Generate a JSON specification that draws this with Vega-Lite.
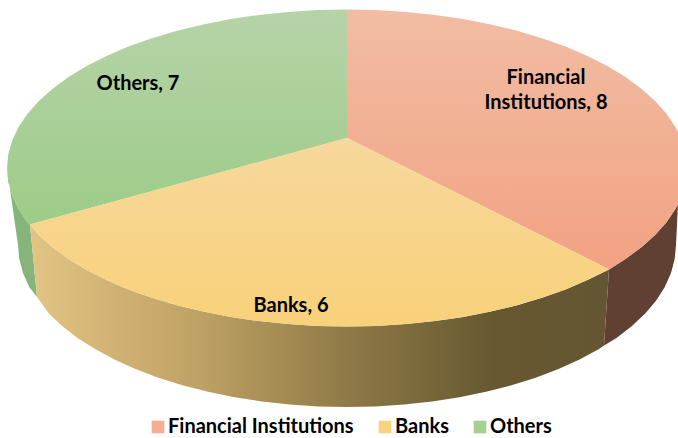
{"$schema":"https://vega.github.io/schema/vega-lite/v6.json","width":678,"height":438,"autosize":{"type":"fit","contains":"padding"},"padding":0,"background":"white","view":{"stroke":null},
"datasets":{
"slices":[{"sector":"Financial Institutions","value":8,"label":"Financial\nInstitutions, 8","x":546,"y":78,"ord":0},{"sector":"Banks","value":6,"label":"Banks, 6","x":291,"y":306,"ord":1},{"sector":"Others","value":7,"label":"Others, 7","x":138,"y":84,"ord":2}],
"finTop":[{"ord":0,"x":347,"y":138},{"ord":1,"x":347,"y":9.5},{"ord":2,"x":376.6,"y":10.1},{"ord":3,"x":406,"y":11.9},{"ord":4,"x":435,"y":14.9},{"ord":5,"x":463.3,"y":19.1},{"ord":6,"x":490.7,"y":24.4},{"ord":7,"x":517,"y":30.7},{"ord":8,"x":542,"y":38.2},{"ord":9,"x":565.6,"y":46.6},{"ord":10,"x":587.4,"y":55.9},{"ord":11,"x":607.4,"y":66.1},{"ord":12,"x":625.5,"y":77.1},{"ord":13,"x":641.4,"y":88.7},{"ord":14,"x":655.1,"y":101},{"ord":15,"x":666.5,"y":113.8},{"ord":16,"x":675.4,"y":127},{"ord":17,"x":678,"y":132},{"ord":18,"x":678,"y":204},{"ord":19,"x":675.4,"y":209},{"ord":20,"x":666.5,"y":222.2},{"ord":21,"x":655.1,"y":235},{"ord":22,"x":641.4,"y":247.3},{"ord":23,"x":625.5,"y":258.9},{"ord":24,"x":609,"y":269.5}],
"bankTop":[{"ord":0,"x":347,"y":138},{"ord":1,"x":609,"y":269.5},{"ord":2,"x":587.4,"y":280.1},{"ord":3,"x":565.6,"y":289.4},{"ord":4,"x":542,"y":297.8},{"ord":5,"x":517,"y":305.3},{"ord":6,"x":490.7,"y":311.6},{"ord":7,"x":463.3,"y":316.9},{"ord":8,"x":435,"y":321.1},{"ord":9,"x":406,"y":324.1},{"ord":10,"x":376.6,"y":325.9},{"ord":11,"x":347,"y":326.5},{"ord":12,"x":317.4,"y":325.9},{"ord":13,"x":288,"y":324.1},{"ord":14,"x":259,"y":321.1},{"ord":15,"x":230.7,"y":316.9},{"ord":16,"x":203.3,"y":311.6},{"ord":17,"x":177,"y":305.3},{"ord":18,"x":152,"y":297.8},{"ord":19,"x":128.4,"y":289.4},{"ord":20,"x":106.6,"y":280.1},{"ord":21,"x":86.6,"y":269.9},{"ord":22,"x":68.5,"y":258.9},{"ord":23,"x":52.6,"y":247.3},{"ord":24,"x":38.9,"y":235},{"ord":25,"x":30,"y":224.6}],
"otherTop":[{"ord":0,"x":347,"y":138},{"ord":1,"x":30,"y":224.6},{"ord":2,"x":27.5,"y":222.2},{"ord":3,"x":18.6,"y":209},{"ord":4,"x":12.2,"y":195.5},{"ord":5,"x":8.3,"y":181.8},{"ord":6,"x":7,"y":168},{"ord":7,"x":8.3,"y":154.2},{"ord":8,"x":12.2,"y":140.5},{"ord":9,"x":18.6,"y":127},{"ord":10,"x":27.5,"y":113.8},{"ord":11,"x":38.9,"y":101},{"ord":12,"x":52.6,"y":88.7},{"ord":13,"x":68.5,"y":77.1},{"ord":14,"x":86.6,"y":66.1},{"ord":15,"x":106.6,"y":55.9},{"ord":16,"x":128.4,"y":46.6},{"ord":17,"x":152,"y":38.2},{"ord":18,"x":177,"y":30.7},{"ord":19,"x":203.3,"y":24.4},{"ord":20,"x":230.7,"y":19.1},{"ord":21,"x":259,"y":14.9},{"ord":22,"x":288,"y":11.9},{"ord":23,"x":317.4,"y":10.1},{"ord":24,"x":347,"y":9.5}],
"finWall":[{"ord":0,"x":678,"y":204},{"ord":1,"x":675.4,"y":209},{"ord":2,"x":666.5,"y":222.2},{"ord":3,"x":655.1,"y":235},{"ord":4,"x":641.4,"y":247.3},{"ord":5,"x":625.5,"y":258.9},{"ord":6,"x":609,"y":269.5},{"ord":7,"x":604,"y":345.5},{"ord":8,"x":616.5,"y":337.9},{"ord":9,"x":631.9,"y":326},{"ord":10,"x":645.2,"y":313.5},{"ord":11,"x":656.2,"y":300.4},{"ord":12,"x":664.8,"y":286.9},{"ord":13,"x":671,"y":273.1},{"ord":14,"x":674.7,"y":259.1},{"ord":15,"x":676,"y":245}],
"bankWall":[{"ord":0,"x":609,"y":269.5},{"ord":1,"x":587.4,"y":280.1},{"ord":2,"x":565.6,"y":289.4},{"ord":3,"x":542,"y":297.8},{"ord":4,"x":517,"y":305.3},{"ord":5,"x":490.7,"y":311.6},{"ord":6,"x":463.3,"y":316.9},{"ord":7,"x":435,"y":321.1},{"ord":8,"x":406,"y":324.1},{"ord":9,"x":376.6,"y":325.9},{"ord":10,"x":347,"y":326.5},{"ord":11,"x":317.4,"y":325.9},{"ord":12,"x":288,"y":324.1},{"ord":13,"x":259,"y":321.1},{"ord":14,"x":230.7,"y":316.9},{"ord":15,"x":203.3,"y":311.6},{"ord":16,"x":177,"y":305.3},{"ord":17,"x":152,"y":297.8},{"ord":18,"x":128.4,"y":289.4},{"ord":19,"x":106.6,"y":280.1},{"ord":20,"x":86.6,"y":269.9},{"ord":21,"x":68.5,"y":258.9},{"ord":22,"x":52.6,"y":247.3},{"ord":23,"x":38.9,"y":235},{"ord":24,"x":30,"y":224.6},{"ord":25,"x":37,"y":297},{"ord":26,"x":48.8,"y":313.5},{"ord":27,"x":62.1,"y":326},{"ord":28,"x":77.5,"y":337.9},{"ord":29,"x":95,"y":349.1},{"ord":30,"x":114.4,"y":359.6},{"ord":31,"x":135.5,"y":369.1},{"ord":32,"x":158.3,"y":377.7},{"ord":33,"x":182.5,"y":385.3},{"ord":34,"x":208,"y":391.8},{"ord":35,"x":234.5,"y":397.2},{"ord":36,"x":261.9,"y":401.5},{"ord":37,"x":289.9,"y":404.5},{"ord":38,"x":318.3,"y":406.4},{"ord":39,"x":347,"y":407},{"ord":40,"x":375.7,"y":406.4},{"ord":41,"x":404.1,"y":404.5},{"ord":42,"x":432.1,"y":401.5},{"ord":43,"x":459.5,"y":397.2},{"ord":44,"x":486,"y":391.8},{"ord":45,"x":511.5,"y":385.3},{"ord":46,"x":535.7,"y":377.7},{"ord":47,"x":558.5,"y":369.1},{"ord":48,"x":579.6,"y":359.6},{"ord":49,"x":599,"y":349.1},{"ord":50,"x":604,"y":345.5}],
"otherWall":[{"ord":0,"x":30,"y":224.6},{"ord":1,"x":27.5,"y":222.2},{"ord":2,"x":18.6,"y":209},{"ord":3,"x":12.2,"y":195.5},{"ord":4,"x":8.3,"y":181.8},{"ord":5,"x":7,"y":168},{"ord":6,"x":18,"y":245},{"ord":7,"x":19.3,"y":259.1},{"ord":8,"x":23,"y":273.1},{"ord":9,"x":29.2,"y":286.9},{"ord":10,"x":37,"y":297}]
},
"encoding":{"x":{"field":"x","type":"quantitative","scale":{"domain":[0,678],"nice":false,"zero":false},"axis":null},"y":{"field":"y","type":"quantitative","scale":{"domain":[438,0],"nice":false,"zero":false},"axis":null},"order":{"field":"ord","type":"quantitative"}},
"layer":[
{"data":{"name":"slices"},"mark":{"type":"square","size":100,"opacity":1},"encoding":{"color":{"field":"sector","type":"nominal","scale":{"domain":["Financial Institutions","Banks","Others"],"range":["#F5AE94","#FAD27F","#A6D08F"]},"sort":["Financial Institutions","Banks","Others"],"legend":{"title":null,"orient":"none","legendX":148,"legendY":417,"direction":"horizontal","columns":3,"columnPadding":21,"symbolType":"square","symbolSize":160,"symbolStrokeWidth":0,"labelFont":"Lato","labelFontWeight":"bold","labelFontSize":20,"labelColor":"#000000","labelOffset":0,"labelLimit":300,"symbolOffset":0}}}},
{"data":{"name":"otherWall"},"mark":{"type":"line","strokeWidth":0,"fill":"#86B47A"}},
{"data":{"name":"finWall"},"mark":{"type":"line","strokeWidth":0,"fill":"#5F4033"}},
{"data":{"name":"bankWall"},"mark":{"type":"line","strokeWidth":0,"fill":{"gradient":"linear","x1":0,"y1":0,"x2":1,"y2":0,"stops":[{"offset":0,"color":"#E2C584"},{"offset":0.3,"color":"#BDA063"},{"offset":0.55,"color":"#8E7A47"},{"offset":0.8,"color":"#675830"},{"offset":1,"color":"#645632"}]}}},
{"data":{"name":"finTop"},"mark":{"type":"line","strokeWidth":0,"fill":{"gradient":"linear","x1":0,"y1":0,"x2":0,"y2":1,"stops":[{"offset":0,"color":"#F1BDA4"},{"offset":1,"color":"#F2A282"}]}}},
{"data":{"name":"otherTop"},"mark":{"type":"line","strokeWidth":0,"fill":{"gradient":"linear","x1":0,"y1":0,"x2":0,"y2":1,"stops":[{"offset":0,"color":"#B6D3A8"},{"offset":1,"color":"#9DCC88"}]}}},
{"data":{"name":"bankTop"},"mark":{"type":"line","strokeWidth":0,"fill":{"gradient":"linear","x1":0,"y1":0,"x2":0,"y2":1,"stops":[{"offset":0,"color":"#F7D89C"},{"offset":1,"color":"#F9D17A"}]}}},
{"data":{"name":"slices"},"mark":{"type":"text","font":"Lato","fontWeight":"bold","fontSize":20,"color":"#000000","align":"center","baseline":"middle","lineBreak":"\n","lineHeight":25},"encoding":{"text":{"field":"label","type":"nominal"}}}
]}
